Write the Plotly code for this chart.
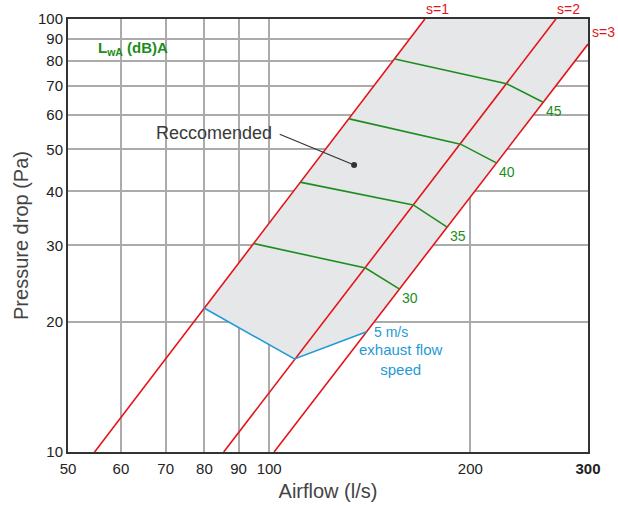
import numpy as np
import plotly.graph_objects as go

# ---- data (airflow l/s, pressure drop Pa) ----
x_ticks = [50, 60, 70, 80, 90, 100, 200, 300]
x_ticktext = ["50", "60", "70", "80", "90", "100", "200", "<b>300</b>"]
y_ticks = [10, 20, 30, 40, 50, 60, 70, 80, 90, 100]

# duct curves s=1, s=2, s=3
s1_q = [54.8, 171.0]
s1_p = [10, 100]
s2_q = [85.5, 268.6]
s2_p = [10, 100]
s3_q = [101.7, 300]
s3_p = [10, 87.5]

# sound power level curves LwA (dB)A
db_levels = ["30", "35", "40", "45"]
db30_q = [94.8, 139.4, 156.5]
db30_p = [30.3, 26.6, 23.8]
db35_q = [111.2, 164.3, 184.4]
db35_p = [42.0, 37.2, 33.1]
db40_q = [131.8, 193.4, 218.4]
db40_p = [58.8, 51.4, 46.6]
db45_q = [154.2, 226.6, 256.6]
db45_p = [80.8, 70.9, 64.3]

# 5 m/s exhaust flow speed
speed_q = [79.9, 109.1, 139.9]
speed_p = [21.5, 16.4, 18.95]

# "Reccomended" pointer
rec_q = [103.7, 134.0]
rec_p = [54.2, 46.0]

RED = "#e3141b"
GREEN = "#1e8c1e"
BLUE = "#1f9ad6"
FONT = "Liberation Sans, Arial, sans-serif"

fig = go.Figure()

# recommended area: between s=1 and s=3, above the 5 m/s line
poly_q = [s1_q[1], 300, 300, speed_q[2], speed_q[1], speed_q[0], s1_q[1]]
poly_p = [100, 100, s3_p[1], speed_p[2], speed_p[1], speed_p[0], 100]
fig.add_trace(go.Scatter(x=poly_q, y=poly_p, fill="toself", fillcolor="#e6e7e8",
                         line=dict(width=0), mode="lines", hoverinfo="skip"))

for q, p in [(s1_q, s1_p), (s2_q, s2_p), (s3_q, s3_p)]:
    fig.add_trace(go.Scatter(x=q, y=p, mode="lines", line=dict(color=RED, width=1.6)))

db_q = [db30_q, db35_q, db40_q, db45_q]
db_p = [db30_p, db35_p, db40_p, db45_p]
for q, p, lab in zip(db_q, db_p, db_levels):
    fig.add_trace(go.Scatter(x=q, y=p, mode="lines", line=dict(color=GREEN, width=1.6)))
    fig.add_annotation(x=np.log10(q[-1]), y=np.log10(p[-1]), text=lab, showarrow=False,
                       xanchor="left", yanchor="top", xshift=1, yshift=1,
                       font=dict(color=GREEN, size=14, family=FONT))

fig.add_trace(go.Scatter(x=speed_q, y=speed_p, mode="lines", line=dict(color=BLUE, width=1.6)))

fig.add_trace(go.Scatter(x=rec_q, y=rec_p, mode="lines", line=dict(color="#333333", width=1.2)))
fig.add_trace(go.Scatter(x=rec_q[1:], y=rec_p[1:], mode="markers",
                         marker=dict(size=6, color="#333333")))

fig.add_annotation(x=np.log10(rec_q[0]), y=np.log10(rec_p[0]), text="Reccomended",
                   showarrow=False, xanchor="right", yanchor="middle", xshift=-6, yshift=1,
                   font=dict(color="#3a3a3a", size=18, family=FONT))

fig.add_annotation(x=np.log10(speed_q[2]), y=np.log10(speed_p[2]), text="5 m/s",
                   showarrow=False, xanchor="left", yanchor="middle", xshift=5, yshift=0,
                   font=dict(color=BLUE, size=14, family=FONT))
fig.add_annotation(x=np.log10(speed_q[2]), y=np.log10(speed_p[2]),
                   text="exhaust flow<br>speed", showarrow=False, align="center",
                   xanchor="center", yanchor="top", xshift=34, yshift=-7,
                   font=dict(color=BLUE, size=15, family=FONT))

fig.add_annotation(x=0.054, y=0.931, xref="paper", yref="paper",
                   text="<b>L<sub>wA</sub> (dB)A</b>", showarrow=False,
                   xanchor="left", yanchor="middle",
                   font=dict(color=GREEN, size=15, family=FONT))

for q, p, lab, dx, dy in [(s1_q, s1_p, "s=1", -1, 0),
                          (s2_q, s2_p, "s=2", -1, 0),
                          (s3_q, s3_p, "s=3", 2, 2)]:
    fig.add_annotation(x=np.log10(q[-1]), y=np.log10(p[-1]), text=lab, showarrow=False,
                       xanchor="left", yanchor="bottom", xshift=dx, yshift=dy,
                       font=dict(color=RED, size=14, family=FONT))

fig.update_layout(
    width=618, height=508,
    margin=dict(l=68, r=30, t=19, b=56),
    plot_bgcolor="white", paper_bgcolor="white",
    showlegend=False,
    font=dict(family=FONT, color="#222222", size=15),
)
fig.update_xaxes(type="log", range=[np.log10(50), np.log10(300)],
                 tickvals=x_ticks, ticktext=x_ticktext,
                 showgrid=True, gridcolor="#ababab", gridwidth=1.5,
                 showline=True, linecolor="#333333", linewidth=2, mirror=True,
                 ticks="", zeroline=False, automargin=False, ticklabelstandoff=2,
                 title=dict(text="Airflow (l/s)", font=dict(size=20, color="#444444"), standoff=8))
fig.update_yaxes(type="log", range=[1, 2],
                 tickvals=y_ticks,
                 showgrid=True, gridcolor="#ababab", gridwidth=1.5,
                 showline=True, linecolor="#333333", linewidth=2, mirror=True,
                 ticks="", zeroline=False, automargin=False,
                 title=dict(text="Pressure drop (Pa)", font=dict(size=20, color="#444444"), standoff=4))

# drop the browser's default 8px body margin so the figure fills the window
fig.write_html("out.html", config={"displayModeBar": False},
               post_script="document.body.style.margin = '0';")
